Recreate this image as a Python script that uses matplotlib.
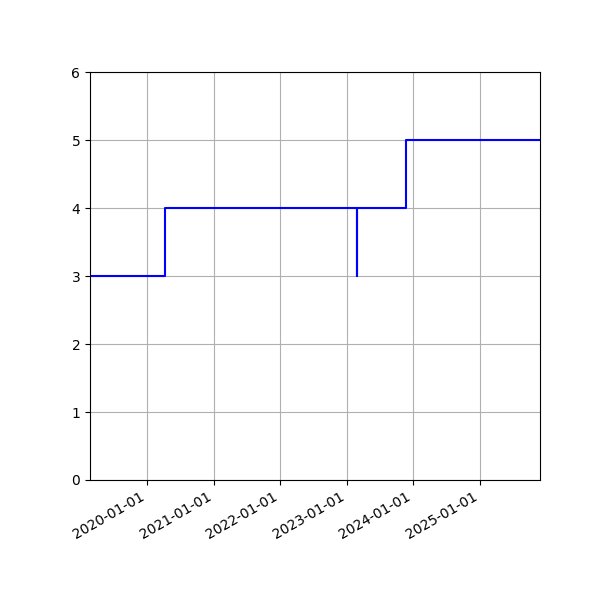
import matplotlib
matplotlib.use("Agg")
import matplotlib.pyplot as plt
import matplotlib.dates as mdates
import numpy as np

dates = np.array(['2019-02-21', '2020-04-07', '2023-02-28', '2023-03-01',
                  '2023-11-22', '2025-11-29'], dtype='datetime64[D]')
values = [3, 4, 3, 4, 5, 5]

fig, ax = plt.subplots(figsize=(6, 6), dpi=100)
fig.subplots_adjust(left=0.15, right=0.9, top=0.88, bottom=0.2)

ax.step(dates, values, where='post', color='blue', linewidth=1.5)

ax.set_xlim(dates[0], dates[-1])
ax.set_ylim(0, 6)
ax.xaxis.set_major_locator(mdates.YearLocator())
ax.xaxis.set_major_formatter(mdates.DateFormatter('%Y-%m-%d'))
ax.grid(True)

for lbl in ax.get_xticklabels():
    lbl.set_rotation(30)
    lbl.set_ha('right')

fig.savefig('out.png', dpi=100)
